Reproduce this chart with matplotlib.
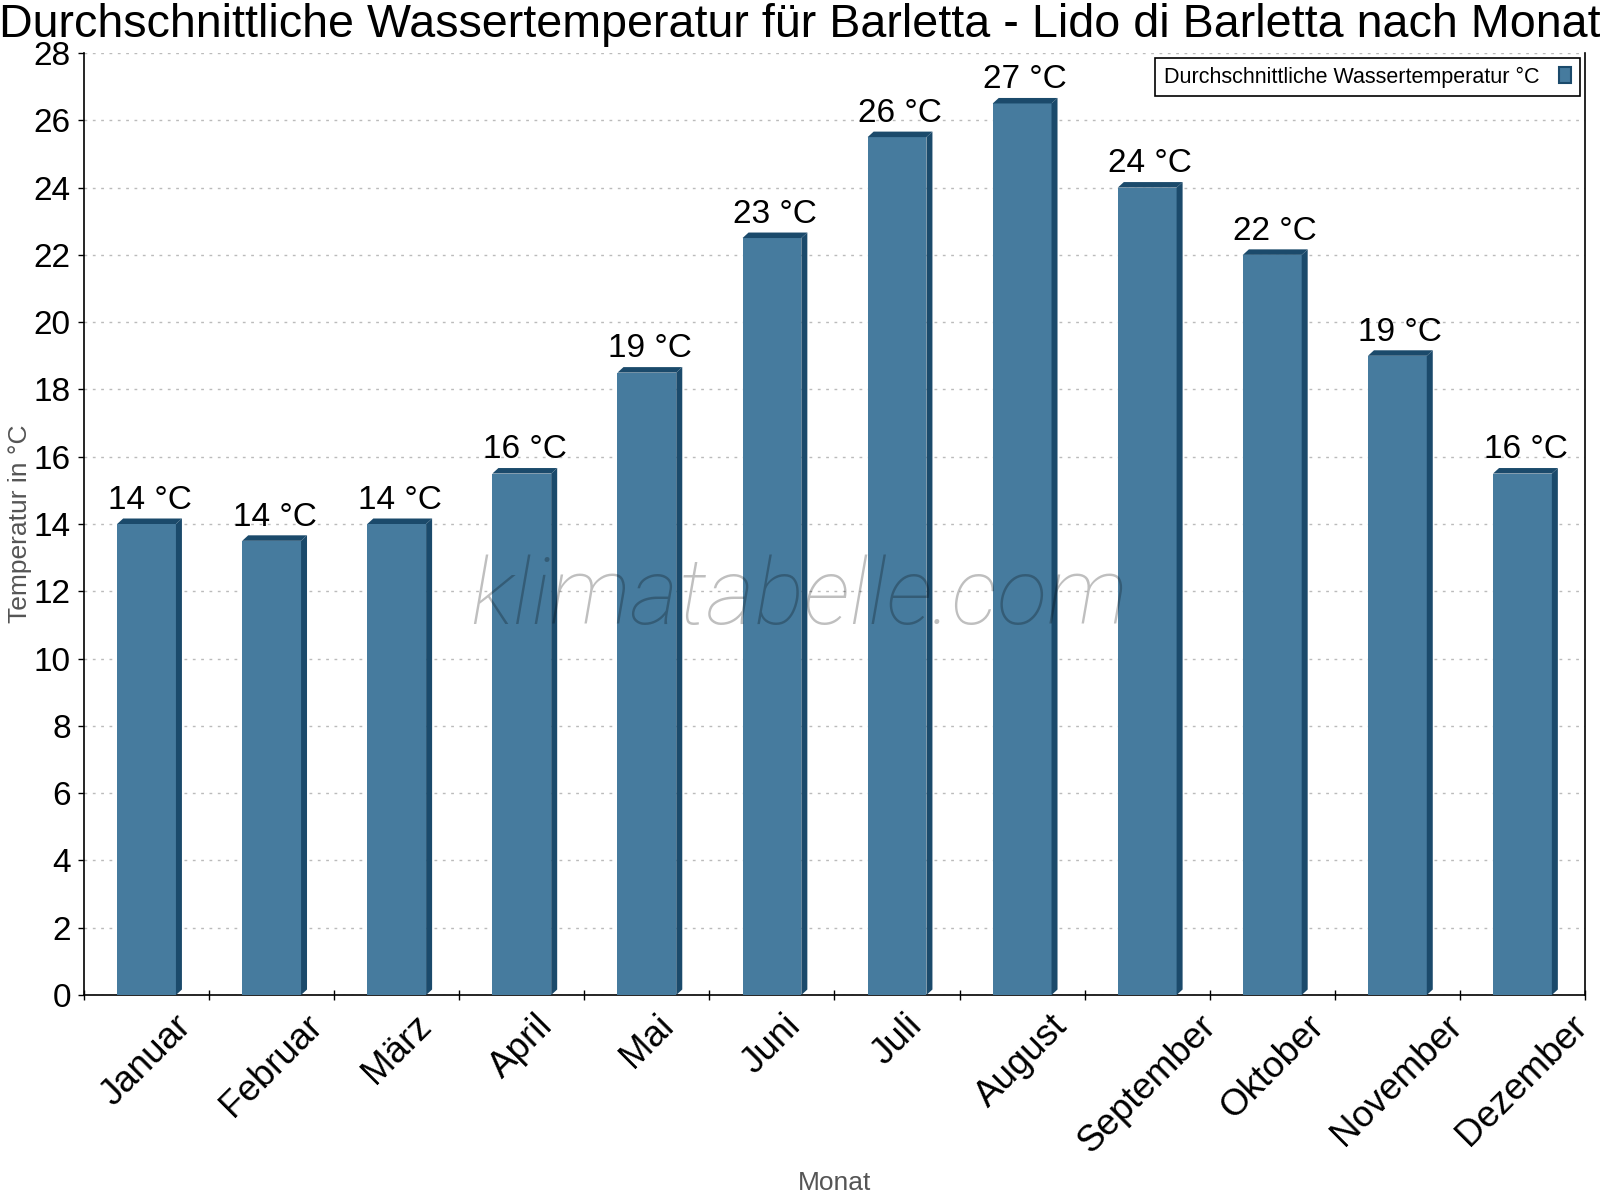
import numpy as np
import matplotlib
matplotlib.use("Agg")
import matplotlib.pyplot as plt
from matplotlib.patches import Polygon, Patch

# data
months = ["Januar", "Februar", "März", "April", "Mai", "Juni", "Juli",
          "August", "September", "Oktober", "November", "Dezember"]
water_temp = [14.0, 13.5, 14.0, 15.5, 18.5, 22.5, 25.5, 26.5, 24.0, 22.0, 19.0, 15.5]
temp_labels = ["14", "14", "14", "16", "19", "23", "26", "27", "24", "22", "19", "16"]
yticks = list(range(0, 29, 2))

front = "#467b9e"
dark = "#1b4a6b"

plt.rcParams["font.family"] = ["Liberation Sans", "DejaVu Sans"]

fig = plt.figure(figsize=(16, 12), dpi=100)
ax = fig.add_axes([84 / 1600, 1 - 995 / 1200, 1501 / 1600, 942 / 1200])

x = np.arange(len(months))
w = 0.47
ax.set_xlim(-0.5, len(months) - 0.5)
ax.set_ylim(0, 28)

# depth of the fake 3d effect in data units (approx 6 px)
dx = 6 / (1501 / 12)
dy = 5.5 / (942 / 28)

ax.bar(x, water_temp, width=w, color=front, zorder=3)
for xi, v, lab in zip(x, water_temp, temp_labels):
    x0, x1 = xi - w / 2, xi + w / 2
    ax.add_patch(Polygon([(x1, 0), (x1 + dx, dy), (x1 + dx, v + dy), (x1, v)],
                         closed=True, color=dark, lw=0, zorder=3))
    ax.add_patch(Polygon([(x0, v), (x0 + dx, v + dy), (x1 + dx, v + dy), (x1, v)],
                         closed=True, color=dark, lw=0, zorder=3))
    ax.text(xi + dx / 2, v + dy + 0.08, lab + " °C", ha="center", va="bottom",
            fontsize=24, color="black", zorder=5)

# grid and spines
ax.set_yticks(yticks)
ax.yaxis.grid(True, linestyle=(0, (2, 4)), color="#bbbbbb", linewidth=1, zorder=0)
ax.spines["top"].set_visible(False)
for s in ["left", "bottom", "right"]:
    ax.spines[s].set_linewidth(1.2)
    ax.spines[s].set_color("black")
ax.tick_params(axis="y", direction="out", length=4.5, width=1, labelsize=24, pad=5)

ax.set_xticks(np.arange(-0.5, len(months), 1.0))
ax.set_xticklabels([])
ax.set_xticks(x, minor=True)
ax.set_xticklabels(months, minor=True, rotation=45, ha="center", fontsize=26.5)
ax.tick_params(axis="x", which="major", direction="inout", length=7, width=1)
ax.tick_params(axis="x", which="minor", length=0, pad=9.5)

# axis labels
fig.text(20 / 1600, 1 - 524 / 1200, "Temperatur in °C", rotation=90, ha="center", va="center",
         fontsize=19, color="#555555")
fig.text(834.5 / 1600, 1 - 1183 / 1200, "Monat", ha="center", va="center",
         fontsize=19, color="#555555")

# title
fig.text(0.5, 1 - 37 / 1200, "Durchschnittliche Wassertemperatur für Barletta - Lido di Barletta nach Monat",
         ha="center", va="baseline", fontsize=33.6, color="black")

# watermark
fig.text(799 / 1600, 1 - 624 / 1200, "klimatabelle.com", ha="center", va="baseline",
         fontsize=67, family="Roboto", weight="light", style="italic",
         color="black", alpha=0.25, zorder=10)

# legend
handle = Patch(facecolor=front, edgecolor=dark, linewidth=1.5)
leg = ax.legend([handle], ["Durchschnittliche Wassertemperatur °C"], loc="upper right",
                bbox_to_anchor=(0.9967, 0.9947), borderaxespad=0, fontsize=15.5,
                markerfirst=False, fancybox=False, framealpha=1, edgecolor="black",
                handlelength=0.6, handleheight=0.8, borderpad=0.4, handletextpad=0.9)
leg.get_frame().set_linewidth(1.2)

fig.savefig("out.png", dpi=100)
